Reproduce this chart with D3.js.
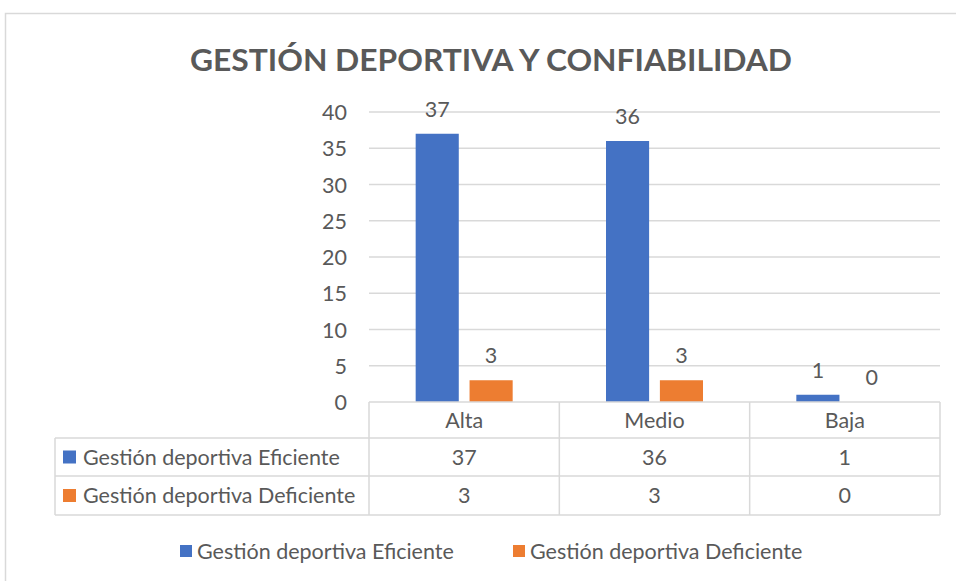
<!DOCTYPE html>
<html>
<head>
<meta charset="utf-8">
<script src="https://cdn.jsdelivr.net/npm/d3@7"></script>
<style>
  body { margin: 0; background: #fff; }
  text { font-family: Lato, "Open Sans", sans-serif; fill: #595959; }
</style>
</head>
<body>
<div id="chart"></div>
<script>
// data
var categories = ["Alta", "Medio", "Baja"];
var seriesNames = ["Gestión deportiva Eficiente", "Gestión deportiva Deficiente"];
var eficiente = [37, 36, 1];
var deficiente = [3, 3, 0];
var yTicks = [0, 5, 10, 15, 20, 25, 30, 35, 40];
var colors = ["#4472c4", "#ed7d31"];
var title = "GESTIÓN DEPORTIVA Y CONFIABILIDAD";

var width = 956, height = 581;
var plot = { left: 369, right: 940, top: 112, bottom: 402 };
var rowH = [36, 38, 39]; // header, row1, row2
var tableLeft = 55;
var grid = "#d9d9d9";
var fs = 21.5;

var svg = d3.select("#chart").append("svg")
    .attr("width", width)
    .attr("height", height);

// outer chart border
svg.append("rect")
    .attr("x", 5.5).attr("y", 13.5)
    .attr("width", 960).attr("height", 600)
    .attr("fill", "#fff")
    .attr("stroke", grid).attr("stroke-width", 1.5);

svg.append("text")
    .attr("x", 491).attr("y", 71)
    .attr("text-anchor", "middle")
    .attr("font-weight", "bold")
    .attr("font-size", 30)
    .attr("textLength", 602)
    .attr("lengthAdjust", "spacingAndGlyphs")
    .text(title);

var x0 = d3.scaleBand()
    .domain(categories)
    .range([plot.left, plot.right]);

var x1 = d3.scaleBand()
    .domain([0, 1])
    .range([0, 97])
    .paddingInner(0.2);

var y = d3.scaleLinear()
    .domain([0, 40])
    .range([plot.bottom, plot.top]);

// gridlines
svg.append("g")
    .selectAll("line")
    .data(yTicks.slice(1))
    .enter().append("line")
    .attr("x1", plot.left).attr("x2", plot.right)
    .attr("y1", function(d) { return y(d); })
    .attr("y2", function(d) { return y(d); })
    .attr("stroke", grid).attr("stroke-width", 1.5);

// y axis labels
var yAxis = svg.append("g")
    .attr("transform", "translate(" + (plot.left - 22) + ",0)")
    .call(d3.axisLeft(y).tickValues(yTicks).tickSize(0).tickPadding(0));
yAxis.select(".domain").remove();
yAxis.selectAll("text")
    .attr("font-size", fs)
    .attr("font-family", null)
    .attr("fill", "#595959")
    .attr("dy", "0.35em");

// bars
var series = [eficiente, deficiente];
var groups = svg.append("g");
series.forEach(function(vals, s) {
    var g = groups.append("g");
    g.selectAll("rect")
        .data(vals)
        .enter().append("rect")
        .attr("x", function(d, i) { return x0(categories[i]) + (x0.bandwidth() - 97) / 2 + x1(s); })
        .attr("y", function(d) { return y(d); })
        .attr("width", x1.bandwidth())
        .attr("height", function(d) { return y(0) - y(d); })
        .attr("fill", colors[s]);
    g.selectAll("text")
        .data(vals)
        .enter().append("text")
        .attr("x", function(d, i) { return x0(categories[i]) + (x0.bandwidth() - 97) / 2 + x1(s) + x1.bandwidth() / 2; })
        .attr("y", function(d) { return y(d) - 17; })
        .attr("text-anchor", "middle")
        .attr("font-size", fs)
        .text(function(d) { return d; });
});

// data table
var rowY = [plot.bottom, plot.bottom + rowH[0], plot.bottom + rowH[0] + rowH[1], plot.bottom + rowH[0] + rowH[1] + rowH[2]];
var t = svg.append("g").attr("stroke", grid).attr("stroke-width", 1.5);
t.append("line").attr("x1", plot.left).attr("x2", plot.right).attr("y1", rowY[0]).attr("y2", rowY[0]);
[1, 2, 3].forEach(function(r) {
    t.append("line").attr("x1", tableLeft).attr("x2", plot.right).attr("y1", rowY[r]).attr("y2", rowY[r]);
});
t.append("line").attr("x1", tableLeft).attr("x2", tableLeft).attr("y1", rowY[1]).attr("y2", rowY[3]);
categories.forEach(function(c) {
    t.append("line").attr("x1", x0(c)).attr("x2", x0(c)).attr("y1", rowY[0]).attr("y2", rowY[3]);
});
t.append("line").attr("x1", plot.right).attr("x2", plot.right).attr("y1", rowY[0]).attr("y2", rowY[3]);

var tt = svg.append("g");
categories.forEach(function(c, i) {
    tt.append("text")
        .attr("x", x0(c) + x0.bandwidth() / 2)
        .attr("y", (rowY[0] + rowY[1]) / 2)
        .attr("dy", "0.35em")
        .attr("text-anchor", "middle")
        .attr("font-size", fs)
        .text(c);
    series.forEach(function(vals, s) {
        tt.append("text")
            .attr("x", x0(c) + x0.bandwidth() / 2)
            .attr("y", (rowY[s + 1] + rowY[s + 2]) / 2)
            .attr("dy", "0.35em")
            .attr("text-anchor", "middle")
            .attr("font-size", fs)
            .text(vals[i]);
    });
});
seriesNames.forEach(function(n, s) {
    var cy = (rowY[s + 1] + rowY[s + 2]) / 2;
    tt.append("rect")
        .attr("x", 63).attr("y", cy - 6.5)
        .attr("width", 13).attr("height", 13)
        .attr("fill", colors[s]);
    tt.append("text")
        .attr("x", 83).attr("y", cy)
        .attr("dy", "0.35em")
        .attr("font-size", fs)
        .text(n);
});

// bottom legend
var legendX = [180, 513];
var leg = svg.append("g");
seriesNames.forEach(function(n, s) {
    leg.append("rect")
        .attr("x", legendX[s]).attr("y", 545)
        .attr("width", 12).attr("height", 12)
        .attr("fill", colors[s]);
    leg.append("text")
        .attr("x", legendX[s] + 17).attr("y", 551)
        .attr("dy", "0.35em")
        .attr("font-size", fs)
        .text(n);
});
</script>
</body>
</html>
